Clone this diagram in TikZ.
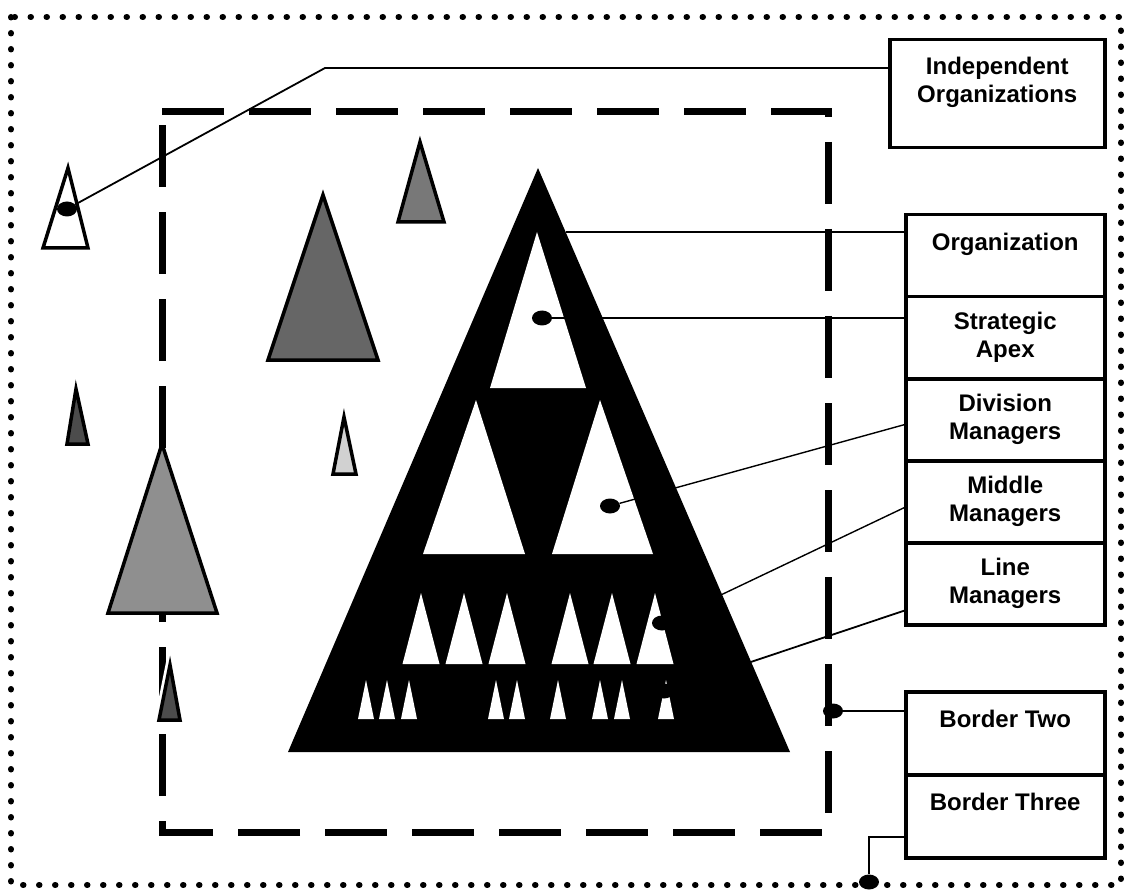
\documentclass[tikz,border=0pt]{standalone}
\usepackage{fontspec}\setmainfont{Liberation Sans}
\usetikzlibrary{shapes.geometric}
\definecolor{grayA}{gray}{0.40}\definecolor{grayB}{gray}{0.47}\definecolor{grayC}{gray}{0.56}
\definecolor{grayD}{gray}{0.30}\definecolor{grayE}{gray}{0.82}
\tikzset{
  lbox/.style={draw,line width=3.5,minimum width=199,minimum height=82,anchor=north west,align=center,inner sep=0,fill=white,
    font=\fontsize{24}{28}\selectfont\bfseries},
  blob/.style={ellipse,fill=black,minimum width=20,minimum height=15,inner sep=0},
  gtri/.style={line width=3.5,line join=miter},
  link/.style={line width=1.8}
}
\begin{document}
\begin{tikzpicture}[x=1pt,y=-1pt]
\useasboundingbox (0,0) rectangle (1128,896);
% borders
\draw[line width=6,line cap=round,dash pattern=on 0.5 off 15.5] (11,17) rectangle (1121,885);
\draw[line width=7,dash pattern=on 62 off 25] (162,112)--(828,112)--(828,832)--(162,832)--cycle;
% other organizations
\draw[gtri,fill=white] (43,248)--(68,168)--(88,248)--cycle;
\draw[gtri,fill=grayA] (268,360)--(323,195)--(378,360)--cycle;
\draw[gtri,fill=grayB] (398,222)--(420,142)--(444,222)--cycle;
\draw[gtri,fill=grayD] (67,444)--(76,389)--(88,444)--cycle;
\draw[gtri,fill=grayC] (108,613)--(162,444)--(217,613)--cycle;
\draw[gtri,fill=grayE] (333,474)--(344,417)--(356,474)--cycle;
\draw[gtri,fill=grayD,preaction={draw=white,line width=9}] (159,720)--(170,665)--(180,720)--cycle;
% the organization
\fill (288,752)--(538,168)--(790,752)--cycle;
\fill[white] (490,388)--(537,232)--(586,388)--cycle;
\fill[white] (423,554)--(476,400)--(525,554)--cycle (552,554)--(600,400)--(653,554)--cycle;
\foreach \x in {421,464,507,570,612,655} \fill[white] (\x-18.5,664)--(\x,593)--(\x+18.5,664)--cycle;
\foreach \x in {366,387,409,496,517,558,600,622,666} \fill[white] (\x-8,719)--(\x,680)--(\x+8,719)--cycle;
% dots
\node[blob] (indot) at (67,209) {};\node[blob] (apexdot) at (542,318) {};
\node[blob] (divdot) at (610,506) {};\node[blob] (middot) at (662,623) {};
\node[blob] (linedot) at (664,691) {};\node[blob] (btdot) at (833,711) {};
\node[blob] (b3dot) at (869,882) {};
% labels
\node[lbox,minimum width=215,minimum height=108] (indep) at (888,38) {Independent\\Organizations\\\mbox{}};
\node[lbox] (org) at (904,213) {Organization\\\mbox{}};
\node[lbox] (apex) at (904,295) {Strategic\\Apex};
\node[lbox] (div) at (904,377) {Division\\Managers};
\node[lbox] (mid) at (904,459) {Middle\\Managers};
\node[lbox] (linem) at (904,541) {Line\\Managers};
\node[lbox,minimum height=83] (btwo) at (904,690) {Border Two\\\mbox{}};
\node[lbox,minimum height=83] (bthree) at (904,773) {Border Three\\\mbox{}};
% connectors
\coordinate (indbend) at (325,68);\coordinate (orgedge) at (566,232);
\draw[link] (indot)--(indbend)--(indbend -| indep.west);
\draw[link] (orgedge)--(orgedge -| org.west);
\draw[link] (apexdot)--(apexdot -| apex.west);
\draw[link,line width=1.4] (divdot)--([yshift=-5]div.west);
\draw[link,line width=1.4] (middot)--([yshift=-6]mid.west);
\draw[link] (linedot)--([yshift=-27]linem.west);
\draw[link] (btdot)--(btdot -| btwo.west);
\draw[link] ([yshift=-21]bthree.west) -| (b3dot);
\end{tikzpicture}
\end{document}
